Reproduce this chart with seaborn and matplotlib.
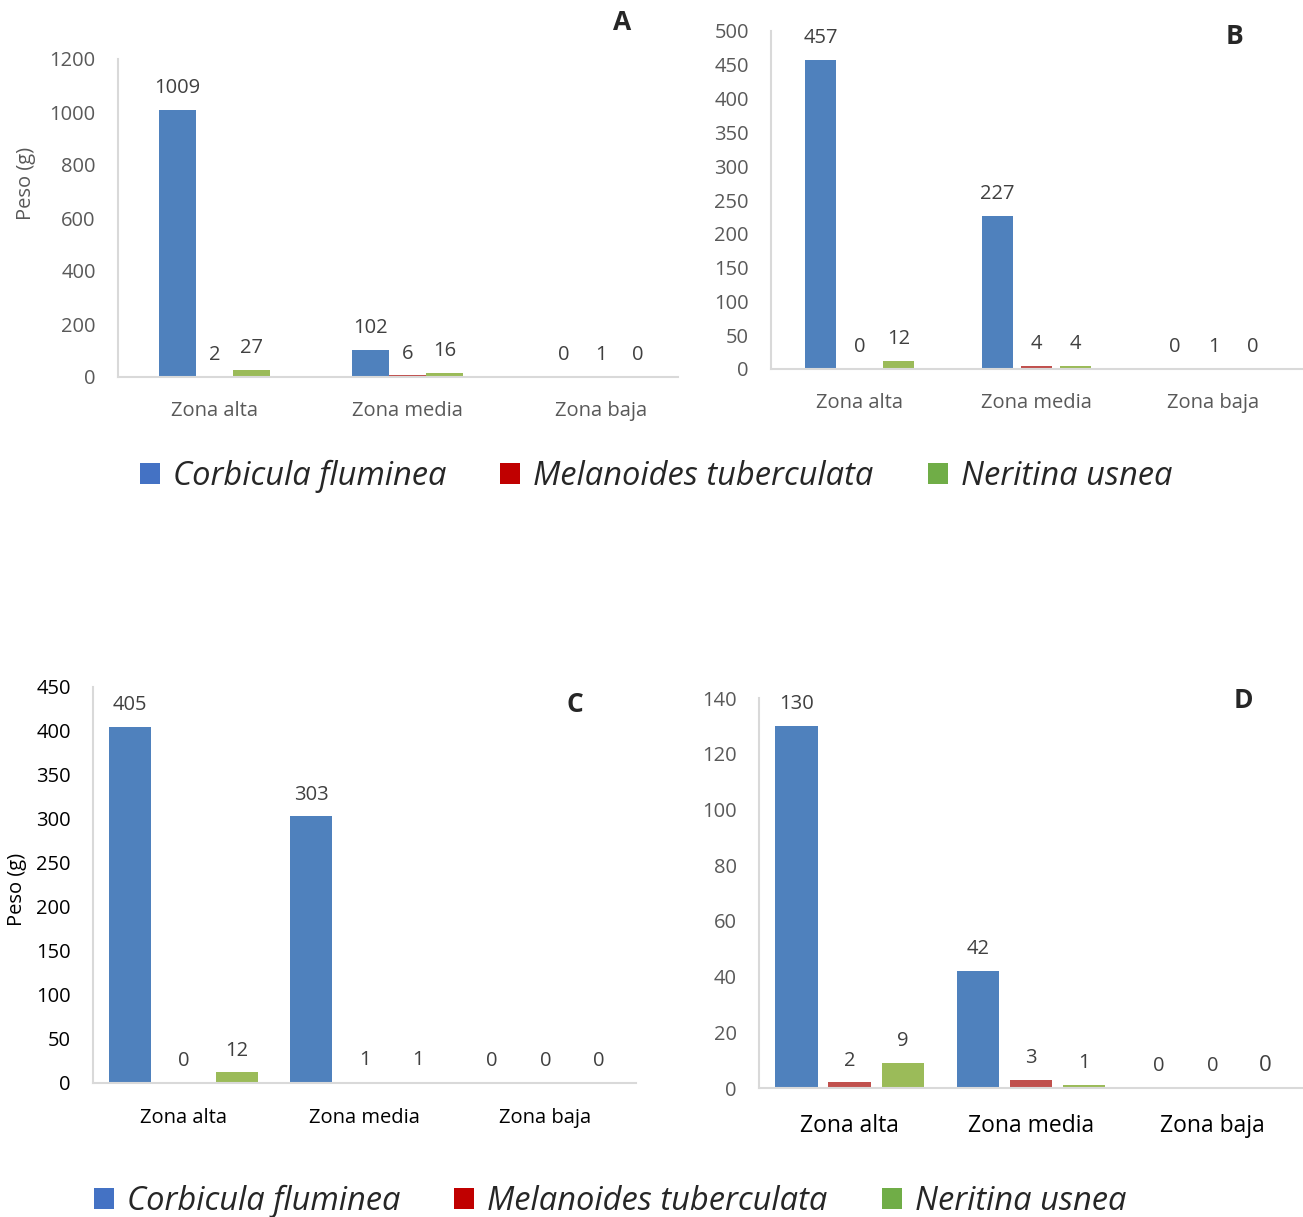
import pandas as pd
import numpy as np
import matplotlib.pyplot as plt
import seaborn as sns
from matplotlib.patches import Patch

# ===== DATA =====
zonas = ['Zona alta', 'Zona media', 'Zona baja']
especies = ['Corbicula fluminea', 'Melanoides tuberculata', 'Neritina usnea']

# Panel A
a_corbicula = [1009, 102, 0]
a_melanoides = [2, 6, 1]
a_neritina = [27, 16, 0]
# Panel B
b_corbicula = [457, 227, 0]
b_melanoides = [0, 4, 1]
b_neritina = [12, 4, 0]
# Panel C
c_corbicula = [405, 303, 0]
c_melanoides = [0, 1, 0]
c_neritina = [12, 1, 0]
# Panel D
d_corbicula = [130, 42, 0]
d_melanoides = [2, 3, 0]
d_neritina = [9, 1, 0]

bar_colors = ['#4F81BD', '#C0504D', '#9BBB59']
legend_colors = ['#4472C4', '#C00000', '#70AD47']


def make_df(corb, mela, neri):
    rows = []
    for sp, vals in zip(especies, [corb, mela, neri]):
        for z, v in zip(zonas, vals):
            rows.append({'zona': z, 'especie': sp, 'peso': v})
    return pd.DataFrame(rows)


sns.set_style('white')
plt.rcParams['font.family'] = ['Open Sans', 'DejaVu Sans']

W, H = 1303, 1217
fig = plt.figure(figsize=(W / 100, H / 100), dpi=100)


def px_axes(left, right, bottom, top):
    # pixel box -> figure fraction
    return fig.add_axes([left / W, 1 - bottom / H, (right - left) / W, (bottom - top) / H])


panels = [
    # data, box(px), ylim, ystep, width, gap, xmax, tick color, x pad
    (make_df(a_corbicula, a_melanoides, a_neritina), (118, 678, 377, 59), 1200, 200, 0.575, 0.0, 2.4, '#595959', 17.5),
    (make_df(b_corbicula, b_melanoides, b_neritina), (771, 1302, 369, 31), 500, 50, 0.66, 0.22, 2.5, '#595959', 17.5),
    (make_df(c_corbicula, c_melanoides, c_neritina), (93, 636, 1083, 687), 450, 50, 0.886, 0.2, 2.5, 'black', 18),
    (make_df(d_corbicula, d_melanoides, d_neritina), (759, 1303, 1088, 698), 140, 20, 0.88, 0.2, 2.5, '#595959', 19),
]

axes = []
for i, (df, box, ymax, ystep, width, gap, xmax, tcol, xpad) in enumerate(panels):
    ax = px_axes(*box)
    sns.barplot(data=df, x='zona', y='peso', hue='especie', hue_order=especies,
                palette=bar_colors, width=width, gap=gap, saturation=1,
                legend=False, ax=ax, edgecolor='none')
    ax.set_ylim(0, ymax)
    ax.set_xlim(-0.5, xmax)
    ax.set_yticks(np.arange(0, ymax + 1, ystep))
    ax.set_xlabel('')
    ax.set_ylabel('')
    for s in ['top', 'right']:
        ax.spines[s].set_visible(False)
    for s in ['left', 'bottom']:
        ax.spines[s].set_color('#D9D9D9')
        ax.spines[s].set_linewidth(1.5)
    ax.tick_params(axis='both', length=0)
    ax.tick_params(axis='y', pad=16, labelsize=14.5, labelcolor=tcol)
    ax.tick_params(axis='x', pad=xpad, labelsize=14.5, labelcolor=tcol)
    for cont in ax.containers:
        ax.bar_label(cont, padding=8.5, fontsize=14.5, color='#404040')
    axes.append(ax)

# panel specific styling
axes[2].tick_params(axis='x', labelcolor='black')
axes[3].tick_params(axis='x', labelcolor='black', labelsize=16.5)
axes[3].texts[-1].set_fontsize(16)

axes[0].set_ylabel('Peso (g)', fontsize=14.5, color='#595959')
axes[0].yaxis.set_label_coords(-0.146, 0.61)
axes[2].set_ylabel('Peso (g)', fontsize=14.5, color='black')
axes[2].yaxis.set_label_coords(-0.122, 0.49)

# panel letters
for letter, (x, y) in zip('ABCD', [(622, 22), (1234, 36), (575, 704), (1243, 700)]):
    fig.text(x / W, 1 - y / H, letter, fontsize=19, fontweight='bold',
             ha='center', va='center')

# legends
handles = [Patch(facecolor=c, edgecolor='none') for c in legend_colors]
for cx, cy in [(656, 476), (610, 1201)]:
    fig.legend(handles, especies, loc='center', bbox_to_anchor=(cx / W, 1 - cy / H),
               ncol=3, frameon=False, prop={'style': 'italic', 'size': 23.5},
               handlelength=0.62, handleheight=0.62, handletextpad=0.4,
               columnspacing=1.65, borderaxespad=0, borderpad=0)

plt.savefig('out.png', dpi=100)
